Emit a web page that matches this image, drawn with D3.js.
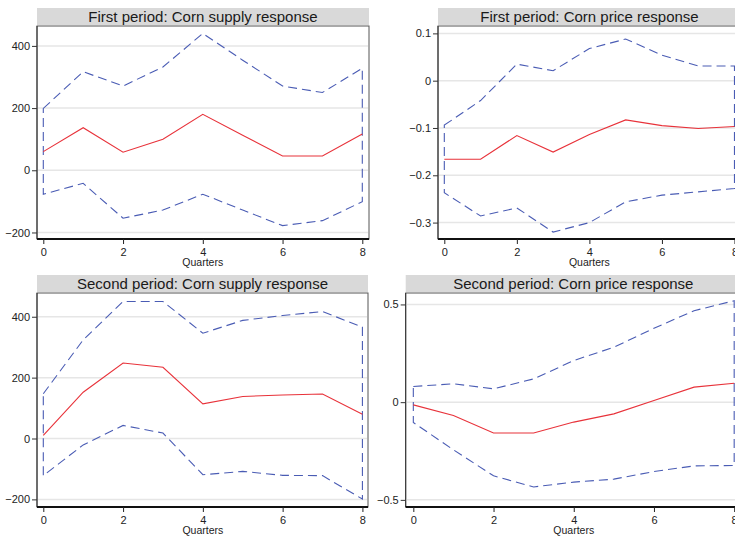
<!DOCTYPE html>
<html>
<head>
<meta charset="utf-8">
<script src="https://cdn.jsdelivr.net/npm/d3@7"></script>
<style>
  html, body { margin: 0; padding: 0; background: #fff; }
  svg { display: block; font-family: "Liberation Sans", Arial, sans-serif; }
</style>
</head>
<body>
<svg id="chart" width="735" height="539"></svg>
<script>
// Impulse responses over 0..8 quarters with upper / lower confidence bands
const quarters = [0, 1, 2, 3, 4, 5, 6, 7, 8];

const supply1 = [60, 137, 58, 100, 180, 113, 46, 46, 117];
const supply1Upper = [199, 317, 271, 332, 440, 354, 271, 250, 328];
const supply1Lower = [-77, -42, -154, -128, -77, -128, -178, -162, -101];

const price1 = [-0.166, -0.166, -0.116, -0.151, -0.114, -0.083, -0.095, -0.101, -0.097];
const price1Upper = [-0.094, -0.042, 0.035, 0.021, 0.068, 0.088, 0.054, 0.031, 0.031];
const price1Lower = [-0.237, -0.286, -0.269, -0.320, -0.300, -0.256, -0.242, -0.235, -0.228];

const supply2 = [10, 152, 248, 234, 114, 138, 143, 146, 80];
const supply2Upper = [147, 324, 450, 450, 346, 388, 404, 417, 366];
const supply2Lower = [-122, -21, 43, 18, -119, -108, -121, -122, -199];

const price2 = [-0.014, -0.068, -0.158, -0.158, -0.102, -0.060, 0.008, 0.077, 0.097];
const price2Upper = [0.080, 0.094, 0.068, 0.119, 0.213, 0.281, 0.378, 0.468, 0.519];
const price2Lower = [-0.104, -0.244, -0.377, -0.434, -0.409, -0.394, -0.355, -0.326, -0.324];

const xTicks = [0, 2, 4, 6, 8];
const supplyTicks = [-200, 0, 200, 400];
const price1Ticks = [-0.3, -0.2, -0.1, 0, 0.1];
const price2Ticks = [-0.5, 0, 0.5];

const titles = [
  "First period: Corn supply response",
  "First period: Corn price response",
  "Second period: Corn supply response",
  "Second period: Corn price response"
];
const xLabel = "Quarters";

// Panel frames (plot box in px) and the value range spanned by each box
const panels = [
  { title: titles[0], mid: supply1, hi: supply1Upper, lo: supply1Lower, ticks: supplyTicks,
    fmt: d3.format("d"), box: [37, 369, 26, 239], xd: [-0.158, 8.168], yd: [-221, 464] },
  { title: titles[1], mid: price1, hi: price1Upper, lo: price1Lower, ticks: price1Ticks,
    fmt: d => d === 0 ? "0" : d3.format(".1f")(d), box: [438, 741, 26, 239], xd: [-0.174, 8.18], yd: [-0.3347, 0.1156] },
  { title: titles[2], mid: supply2, hi: supply2Upper, lo: supply2Lower, ticks: supplyTicks,
    fmt: d3.format("d"), box: [37, 368, 293, 507], xd: [-0.158, 8.14], yd: [-225, 478] },
  { title: titles[3], mid: price2, hi: price2Upper, lo: price2Lower, ticks: price2Ticks,
    fmt: d => d === 0 ? "0" : d3.format(".1f")(d), box: [405.7, 741, 293, 507], xd: [-0.19, 8.17], yd: [-0.5365, 0.5586] }
];

const svg = d3.select("#chart");

panels.forEach(p => {
  const [x0, x1, y0, y1] = p.box;
  const x = d3.scaleLinear().domain(p.xd).range([x0, x1]);
  const y = d3.scaleLinear().domain(p.yd).range([y1, y0]);
  const g = svg.append("g");

  // title strip
  g.append("rect")
    .attr("x", x0).attr("y", y0 - 18).attr("width", x1 - x0).attr("height", 17)
    .attr("fill", "#d9d9d9");
  g.append("text")
    .attr("x", (x0 + x1) / 2).attr("y", y0 - 4.5)
    .attr("text-anchor", "middle")
    .attr("font-size", 15).attr("fill", "#1a1a1a")
    .text(p.title);

  // plot region
  g.append("rect")
    .attr("x", x0).attr("y", y0).attr("width", x1 - x0).attr("height", y1 - y0)
    .attr("fill", "#fff").attr("stroke", "#555").attr("stroke-width", 1);

  // horizontal gridlines
  g.append("g").selectAll("line").data(p.ticks).join("line")
    .attr("x1", x0 + 1).attr("x2", x1 - 1)
    .attr("y1", d => y(d)).attr("y2", d => y(d))
    .attr("stroke", "#e6e6e6").attr("stroke-width", 1.5);

  // confidence band outline: upper path, across, lower path back
  const band = quarters.map((q, i) => [q, p.hi[i]])
    .concat(quarters.slice().reverse().map(q => [q, p.lo[q]]));
  g.append("path")
    .datum(band)
    .attr("d", d3.line().x(d => x(d[0])).y(d => y(d[1])).curve(d3.curveLinearClosed))
    .attr("fill", "none").attr("stroke", "#4a5cb4").attr("stroke-width", 1.1)
    .attr("stroke-dasharray", "9,5");

  // point estimate
  g.append("path")
    .datum(quarters.map((q, i) => [q, p.mid[i]]))
    .attr("d", d3.line().x(d => x(d[0])).y(d => y(d[1])))
    .attr("fill", "none").attr("stroke", "#e8323a").attr("stroke-width", 1.1);

  // y axis
  const ya = g.append("g").attr("transform", `translate(${x0},0)`)
    .call(d3.axisLeft(y).tickValues(p.ticks).tickFormat(p.fmt).tickSize(5).tickPadding(2));
  ya.select(".domain").attr("stroke", "#333").attr("d", `M0,${y0}V${y1}`);
  ya.selectAll(".tick line").attr("stroke", "#333");
  ya.selectAll(".tick text").attr("font-size", 11).attr("fill", "#222")
    .attr("font-family", "Liberation Sans, Arial, sans-serif");

  // x axis
  const xa = g.append("g").attr("transform", `translate(0,${y1})`)
    .call(d3.axisBottom(x).tickValues(xTicks).tickFormat(d3.format("d")).tickSize(5).tickPadding(4));
  xa.select(".domain").attr("stroke", "#111").attr("stroke-width", 2).attr("d", `M${x0},0H${x1}`);
  xa.selectAll(".tick line").attr("stroke", "#222");
  xa.selectAll(".tick text").attr("font-size", 11).attr("fill", "#222")
    .attr("font-family", "Liberation Sans, Arial, sans-serif");

  g.append("text")
    .attr("x", x(4)).attr("y", y1 + 27)
    .attr("text-anchor", "middle").attr("font-size", 10.5).attr("fill", "#222")
    .text(xLabel);
});
</script>
</body>
</html>
